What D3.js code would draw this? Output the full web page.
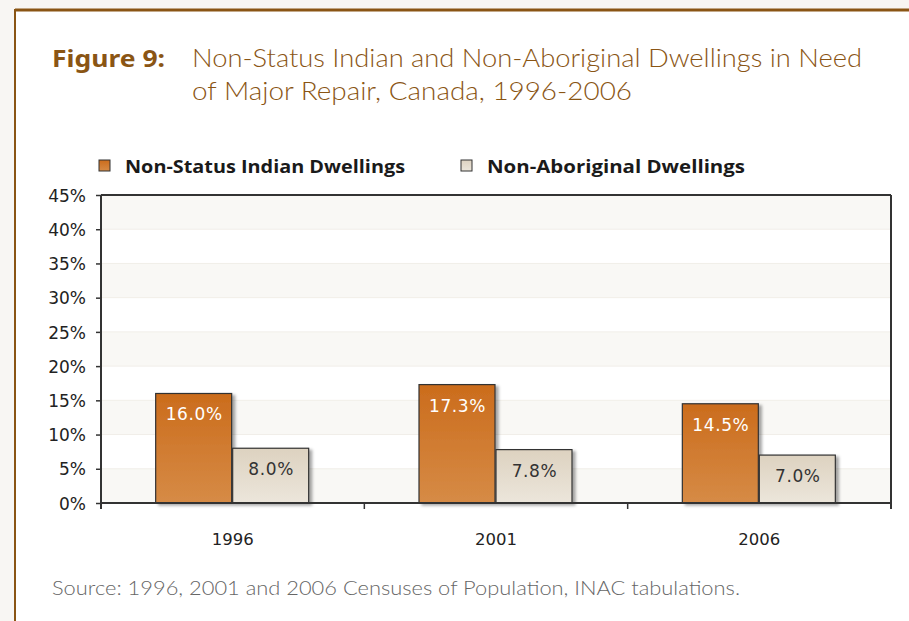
<!DOCTYPE html>
<html>
<head>
<meta charset="utf-8">
<script src="https://cdn.jsdelivr.net/npm/d3@7"></script>
<style>
  body { margin: 0; background: #f8f6f3; }
  svg { display: block; }
</style>
</head>
<body>
<div id="chart"></div>
<script>
// data
var years = ["1996", "2001", "2006"];
var series = ["Non-Status Indian Dwellings", "Non-Aboriginal Dwellings"];
var nonStatus = [16.0, 17.3, 14.5];
var nonAboriginal = [8.0, 7.8, 7.0];
var yTicks = [0, 5, 10, 15, 20, 25, 30, 35, 40, 45];

var svgWidth = 909;
var svgHeight = 621;

var margin = { top: 195, right: 18, bottom: 118, left: 101 };
var width = svgWidth - margin.left - margin.right;
var height = svgHeight - margin.top - margin.bottom;

var svg = d3.select("#chart")
  .append("svg")
  .attr("width", svgWidth)
  .attr("height", svgHeight);

var defs = svg.append("defs");

var gOrange = defs.append("linearGradient").attr("id", "gOrange")
  .attr("x1", 0).attr("y1", 0).attr("x2", 0).attr("y2", 1);
gOrange.append("stop").attr("offset", "0%").attr("stop-color", "#cb6c1c");
gOrange.append("stop").attr("offset", "100%").attr("stop-color", "#d68b46");

var gBeige = defs.append("linearGradient").attr("id", "gBeige")
  .attr("x1", 0).attr("y1", 0).attr("x2", 0).attr("y2", 1);
gBeige.append("stop").attr("offset", "0%").attr("stop-color", "#ddd2c0");
gBeige.append("stop").attr("offset", "100%").attr("stop-color", "#ece6db");

var shadow = defs.append("filter").attr("id", "shadow")
  .attr("x", "-10%").attr("y", "-10%").attr("width", "130%").attr("height", "130%");
shadow.append("feDropShadow")
  .attr("dx", 3).attr("dy", 2).attr("stdDeviation", 1.5)
  .attr("flood-color", "#000").attr("flood-opacity", 0.35);

// page frame
svg.append("rect")
  .attr("x", 16).attr("y", 11)
  .attr("width", svgWidth - 16).attr("height", svgHeight - 11)
  .attr("fill", "#ffffff");
svg.append("line")
  .attr("x1", 15).attr("x2", svgWidth).attr("y1", 10).attr("y2", 10)
  .attr("stroke", "#8a5514").attr("stroke-width", 3);
svg.append("line")
  .attr("x1", 15).attr("x2", 15).attr("y1", 9).attr("y2", svgHeight)
  .attr("stroke", "#8a5514").attr("stroke-width", 2);

// title
var title = svg.append("g").attr("fill", "#8a5514").attr("font-family", "Lato, 'Noto Sans', sans-serif");
title.append("text")
  .attr("x", 52).attr("y", 67)
  .attr("font-size", 24).attr("font-weight", "bold")
  .attr("font-family", "'Noto Sans', sans-serif")
  .attr("textLength", 113).attr("lengthAdjust", "spacingAndGlyphs")
  .text("Figure 9:");
title.append("text")
  .attr("x", 192).attr("y", 67)
  .attr("font-size", 26).attr("font-weight", 300)
  .attr("textLength", 670).attr("lengthAdjust", "spacingAndGlyphs")
  .text("Non-Status Indian and Non-Aboriginal Dwellings in Need");
title.append("text")
  .attr("x", 192).attr("y", 100)
  .attr("font-size", 26).attr("font-weight", 300)
  .attr("textLength", 440).attr("lengthAdjust", "spacingAndGlyphs")
  .text("of Major Repair, Canada, 1996-2006");

// legend
var legendX = [99, 461];
var legendW = [280, 258];
var legendFill = ["url(#gOrange)", "url(#gBeige)"];
var legend = svg.append("g").attr("font-family", "'Open Sans', sans-serif");
series.forEach(function(s, i) {
  legend.append("rect")
    .attr("x", legendX[i]).attr("y", 160)
    .attr("width", 11).attr("height", 11)
    .attr("fill", legendFill[i])
    .attr("stroke", "#333").attr("stroke-width", 1);
  legend.append("text")
    .attr("x", legendX[i] + 26).attr("y", 173)
    .attr("font-size", 18).attr("font-weight", "bold").attr("fill", "#1a1a1a")
    .attr("textLength", legendW[i]).attr("lengthAdjust", "spacingAndGlyphs")
    .text(s);
});

var chartGroup = svg.append("g")
  .attr("transform", `translate(${margin.left}, ${margin.top})`);

// scales
var xScale = d3.scaleBand()
  .domain(years)
  .range([0, width]);

var yScale = d3.scaleLinear()
  .domain([0, 45])
  .range([height, 0]);

// alternating bands
chartGroup.selectAll(".band")
  .data(yTicks.slice(0, -1))
  .enter()
  .append("rect")
  .attr("x", 0)
  .attr("width", width)
  .attr("y", d => yScale(d + 5))
  .attr("height", d => yScale(d) - yScale(d + 5))
  .attr("fill", (d, i) => i % 2 === 0 ? "#f9f8f5" : "#ffffff");

// faint grid lines
chartGroup.selectAll(".grid")
  .data(yTicks.slice(1, -1))
  .enter()
  .append("line")
  .attr("x1", 0).attr("x2", width)
  .attr("y1", d => yScale(d)).attr("y2", d => yScale(d))
  .attr("stroke", "#f1eee8").attr("stroke-width", 1);

// bars
var barW = 77;
var bars = [
  { vals: nonStatus, fill: "url(#gOrange)", dx: -barW, color: "#ffffff" },
  { vals: nonAboriginal, fill: "url(#gBeige)", dx: 0, color: "#333333" }
];

bars.forEach(function(b) {
  var g = chartGroup.append("g");
  g.selectAll("rect")
    .data(years)
    .enter()
    .append("rect")
    .attr("x", d => xScale(d) + xScale.bandwidth() / 2 + b.dx)
    .attr("y", (d, i) => yScale(b.vals[i]))
    .attr("width", barW - 1)
    .attr("height", (d, i) => height - yScale(b.vals[i]))
    .attr("fill", b.fill)
    .attr("stroke", "#333")
    .attr("stroke-width", 1.2)
    .attr("filter", "url(#shadow)");

  g.selectAll("text")
    .data(years)
    .enter()
    .append("text")
    .attr("x", d => xScale(d) + xScale.bandwidth() / 2 + b.dx + barW / 2)
    .attr("y", (d, i) => yScale(b.vals[i]) + 27)
    .attr("text-anchor", "middle")
    .attr("font-family", "'DejaVu Sans', sans-serif")
    .attr("font-size", 17)
    .attr("letter-spacing", 0.6)
    .attr("fill", b.color)
    .text((d, i) => b.vals[i].toFixed(1) + "%");
});

// frame of plot area
chartGroup.append("line")
  .attr("x1", 0).attr("x2", width).attr("y1", 0).attr("y2", 0)
  .attr("stroke", "#333").attr("stroke-width", 2);
chartGroup.append("line")
  .attr("x1", width).attr("x2", width).attr("y1", 0).attr("y2", height + 6)
  .attr("stroke", "#333").attr("stroke-width", 2);

// axes
var leftAxis = d3.axisLeft(yScale)
  .tickValues(yTicks)
  .tickSize(5)
  .tickFormat(d => d + "%");

var yAxis = chartGroup.append("g")
  .call(leftAxis);
yAxis.select(".domain").attr("stroke", "#333").attr("stroke-width", 2)
  .attr("d", `M0,0V${height + 6}`);
yAxis.selectAll(".tick line").attr("stroke", "#333").attr("stroke-width", 1.5);
yAxis.selectAll(".tick text")
  .attr("x", -15)
  .attr("dy", "0.36em")
  .attr("font-family", "'DejaVu Sans', sans-serif")
  .attr("font-size", 17)
  .attr("fill", "#222");

var bottomAxis = d3.axisBottom(xScale).tickSize(0).tickPadding(30);
var xAxis = chartGroup.append("g")
  .attr("transform", `translate(0, ${height})`)
  .call(bottomAxis);
xAxis.select(".domain").attr("stroke", "#333").attr("stroke-width", 2)
  .attr("d", `M0,0H${width}`);
xAxis.selectAll(".tick text")
  .attr("font-family", "'DejaVu Sans', sans-serif")
  .attr("font-size", 16.5)
  .attr("fill", "#222");

// category separators below the axis
chartGroup.selectAll(".sep")
  .data(years.slice(1))
  .enter()
  .append("line")
  .attr("x1", d => xScale(d)).attr("x2", d => xScale(d))
  .attr("y1", height).attr("y2", height + 6)
  .attr("stroke", "#333").attr("stroke-width", 1.5);

// source
svg.append("text")
  .attr("x", 52).attr("y", 595)
  .attr("font-family", "Lato, 'Noto Sans', sans-serif")
  .attr("font-size", 19).attr("font-weight", 300)
  .attr("fill", "#666")
  .attr("textLength", 688).attr("lengthAdjust", "spacingAndGlyphs")
  .text("Source: 1996, 2001 and 2006 Censuses of Population, INAC tabulations.");
</script>
</body>
</html>
